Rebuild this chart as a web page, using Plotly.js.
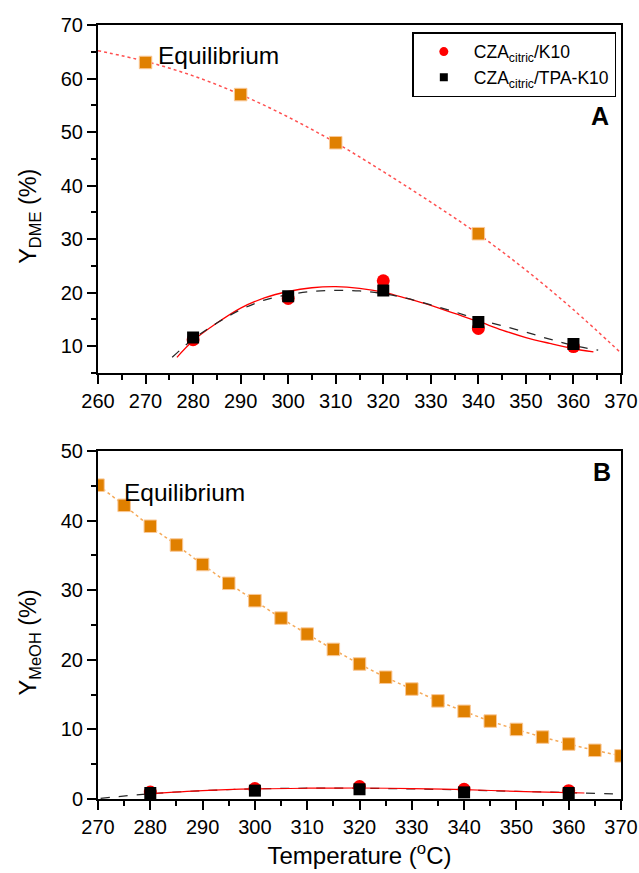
<!DOCTYPE html>
<html>
<head>
<meta charset="utf-8">
<script src="https://cdn.plot.ly/plotly-3.0.1.min.js"></script>
<style>html,body{margin:0;padding:0;background:#fff;}#chart{width:639px;height:873px;}</style>
</head>
<body>
<div id="chart"></div>
<script>
// ---------- Panel A: DME yield ----------
const T_A_EQ = [270, 290, 310, 340];
const Y_A_EQ = [63, 57, 48, 31];
const T_A_EQ_FIT = [260, 270, 280, 290, 300, 310, 320, 330, 340, 350, 360, 370];
const Y_A_EQ_FIT = [65.2, 63.2, 60.5, 57.0, 52.8, 48.0, 42.6, 36.9, 30.9, 24.2, 16.8, 8.7];

const T_CAT = [280, 300, 320, 340, 360];
const Y_A_K10 = [11.2, 18.9, 22.2, 13.3, 9.9];
const Y_A_TPA = [11.6, 19.3, 20.4, 14.5, 10.4];

const T_A_K10_FIT = [276.6, 280, 285, 290, 295, 300, 305, 310, 315, 320, 325, 330, 335, 340, 345, 350, 355, 360, 364.2];
const Y_A_K10_FIT = [7.9, 11.0, 14.3, 17.1, 19.0, 20.2, 20.9, 21.1, 20.8, 20.1, 18.9, 17.6, 16.1, 14.6, 13.0, 11.6, 10.5, 9.5, 8.9];
const T_A_TPA_FIT = [275.6, 280, 285, 290, 295, 300, 305, 310, 315, 320, 325, 330, 335, 340, 345, 350, 355, 360, 365.2];
const Y_A_TPA_FIT = [7.9, 11.3, 14.3, 16.8, 18.6, 19.6, 20.2, 20.4, 20.3, 19.8, 18.9, 17.7, 16.4, 15.0, 13.8, 12.6, 11.3, 10.1, 9.25];

// ---------- Panel B: MeOH yield ----------
const T_B_EQ = [270, 275, 280, 285, 290, 295, 300, 305, 310, 315, 320, 325, 330, 335, 340, 345, 350, 355, 360, 365, 370];
const Y_B_EQ = [45.1, 42.2, 39.2, 36.5, 33.7, 31.0, 28.5, 26.0, 23.7, 21.5, 19.4, 17.5, 15.8, 14.1, 12.6, 11.2, 10.0, 8.9, 7.9, 7.0, 6.2];

const Y_B_K10 = [1.0, 1.5, 1.8, 1.4, 1.2];
const Y_B_TPA = [0.86, 1.2, 1.4, 0.95, 0.86];

const T_B_K10_FIT = [280, 290, 300, 310, 320, 330, 340, 350, 360, 363];
const Y_B_K10_FIT = [0.75, 1.2, 1.45, 1.55, 1.58, 1.5, 1.35, 1.1, 0.92, 0.86];
const T_B_TPA_FIT = [270.5, 280, 290, 300, 310, 320, 330, 340, 350, 360, 370];
const Y_B_TPA_FIT = [0.1, 0.75, 1.2, 1.45, 1.55, 1.55, 1.45, 1.3, 1.1, 0.92, 0.7];

// ---------- labels ----------
const NAME_K10 = 'CZA<sub>citric</sub>/K10';
const NAME_TPA = 'CZA<sub>citric</sub>/TPA-K10';
const EQ_LABEL = 'Equilibrium';
const Y_TITLE_A = 'Y<sub>DME</sub> (%)';
const Y_TITLE_B = 'Y<sub>MeOH</sub> (%)';
const X_TITLE = 'Temperature (<sup>o</sup>C)';

const ORANGE = 'rgb(224,128,0)';
const ORANGE_EDGE = 'rgb(250,200,150)';
const RED = 'rgb(255,0,0)';

function eqMarkers(x, y, xa, ya) {
  return {x: x, y: y, xaxis: xa, yaxis: ya, mode: 'markers', showlegend: false, hoverinfo: 'skip',
    marker: {symbol: 'square', size: 12.5, color: ORANGE, line: {color: ORANGE_EDGE, width: 1}}};
}
function line(x, y, xa, ya, color, dash, width) {
  return {x: x, y: y, xaxis: xa, yaxis: ya, mode: 'lines', showlegend: false, hoverinfo: 'skip',
    line: {color: color, dash: dash, width: width, shape: 'spline'}};
}
function pts(x, y, xa, ya, color, symbol, size) {
  return {x: x, y: y, xaxis: xa, yaxis: ya, mode: 'markers', showlegend: false, hoverinfo: 'skip',
    marker: {symbol: symbol, size: size, color: color}};
}

const data = [
  line(T_A_EQ_FIT, Y_A_EQ_FIT, 'x', 'y', 'rgb(255,80,80)', 'dot', 1.5),
  eqMarkers(T_A_EQ, Y_A_EQ, 'x', 'y'),
  line(T_A_K10_FIT, Y_A_K10_FIT, 'x', 'y', RED, 'solid', 1.3),
  line(T_A_TPA_FIT, Y_A_TPA_FIT, 'x', 'y', 'rgb(40,40,40)', 'dash', 1.3),
  pts(T_CAT, Y_A_K10, 'x', 'y', RED, 'circle', 13),
  pts(T_CAT, Y_A_TPA, 'x', 'y', 'black', 'square', 12),

  line(T_B_EQ, Y_B_EQ, 'x2', 'y2', 'rgb(245,170,90)', 'dot', 1.5),
  eqMarkers(T_B_EQ, Y_B_EQ, 'x2', 'y2'),
  line(T_B_TPA_FIT, Y_B_TPA_FIT, 'x2', 'y2', 'rgb(40,40,40)', 'dash', 1.2),
  line(T_B_K10_FIT, Y_B_K10_FIT, 'x2', 'y2', RED, 'solid', 1.2),
  pts(T_CAT, Y_B_K10, 'x2', 'y2', RED, 'circle', 13),
  pts(T_CAT, Y_B_TPA, 'x2', 'y2', 'black', 'square', 12),

  // legend entries
  {x: [null], y: [null], xaxis: 'x', yaxis: 'y', mode: 'markers', name: NAME_K10, showlegend: true,
   marker: {symbol: 'circle', size: 9, color: RED}},
  {x: [null], y: [null], xaxis: 'x', yaxis: 'y', mode: 'markers', name: NAME_TPA, showlegend: true,
   marker: {symbol: 'square', size: 8, color: 'black'}}
];

const axisCommon = {
  showline: true, linewidth: 2, linecolor: 'black', mirror: true,
  ticks: 'outside', ticklen: 9, tickwidth: 2, tickcolor: 'black',
  showgrid: false, zeroline: false,
  tickfont: {size: 20, color: 'black'},
  minor: {dtick: 5, ticks: 'outside', ticklen: 5, tickwidth: 2, tickcolor: 'black', showgrid: false}
};

const layout = {
  width: 639, height: 873,
  margin: {l: 97.5, r: 18, t: 24.5, b: 73.7, pad: 0},
  paper_bgcolor: 'white', plot_bgcolor: 'white',
  font: {family: '"Liberation Sans", Arial, sans-serif', color: 'black', size: 20},
  showlegend: true,
  legend: {x: 0.601, y: 0.9907, xanchor: 'left', yanchor: 'top', bordercolor: 'black', borderwidth: 1.5,
    bgcolor: 'white', font: {size: 17.5, color: 'black'}, itemwidth: 50, traceorder: 'normal'},
  xaxis: Object.assign({}, axisCommon, {domain: [0, 1], anchor: 'y', range: [260, 370], dtick: 10, tick0: 260}),
  yaxis: Object.assign({}, axisCommon, {domain: [0.5506, 1], anchor: 'x', range: [5, 70], dtick: 10, tick0: 0}),
  xaxis2: Object.assign({}, axisCommon, {domain: [0, 1], anchor: 'y2', range: [270, 370], dtick: 10, tick0: 270,
    title: {text: X_TITLE, font: {size: 24, color: 'black'}, standoff: 10}}),
  yaxis2: Object.assign({}, axisCommon, {domain: [0, 0.4495], anchor: 'x2', range: [0, 50], dtick: 10, tick0: 0}),
  annotations: [
    {xref: 'x', yref: 'y', x: 272.3, y: 64.3, xanchor: 'left', yanchor: 'middle', text: EQ_LABEL, showarrow: false, font: {size: 24.5}},
    {xref: 'x2', yref: 'y2', x: 274.5, y: 44.1, xanchor: 'left', yanchor: 'middle', text: EQ_LABEL, showarrow: false, font: {size: 24.5}},
    {xref: 'x', yref: 'y', x: 368, y: 53, xanchor: 'right', yanchor: 'middle', text: '<b>A</b>', showarrow: false, font: {size: 25}},
    {xref: 'x2', yref: 'y2', x: 368.5, y: 47.06, xanchor: 'right', yanchor: 'middle', text: '<b>B</b>', showarrow: false, font: {size: 25}},
    {xref: 'paper', yref: 'paper', x: -0.1309, y: 0.7528, xanchor: 'center', yanchor: 'middle', textangle: -90, text: Y_TITLE_A, showarrow: false, font: {size: 23.5}},
    {xref: 'paper', yref: 'paper', x: -0.1309, y: 0.2017, xanchor: 'center', yanchor: 'middle', textangle: -90, text: Y_TITLE_B, showarrow: false, font: {size: 23.5}}
  ]
};

Plotly.newPlot('chart', data, layout, {staticPlot: true, displayModeBar: false});
</script>
</body>
</html>
